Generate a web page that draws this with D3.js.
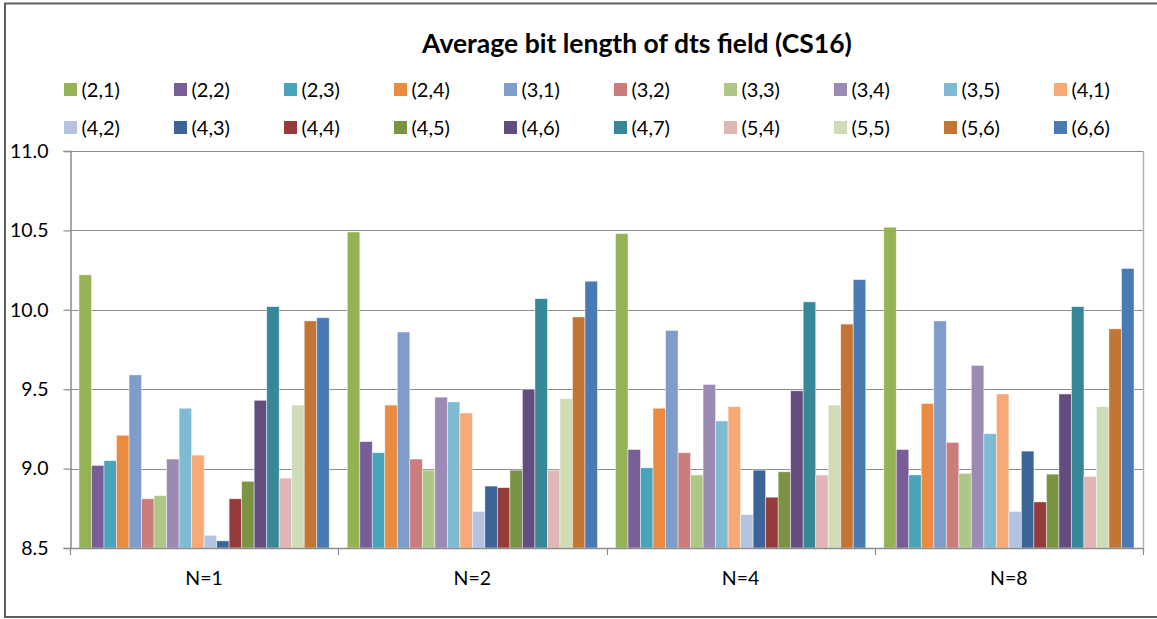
<!DOCTYPE html>
<html>
<head>
<meta charset="utf-8">
<script src="https://cdn.jsdelivr.net/npm/d3@7"></script>
<style>
  html, body { margin: 0; padding: 0; background: #fff; }
  svg { display: block; font-family: Lato, "Open Sans", sans-serif; }
</style>
</head>
<body>
<svg id="chart" width="1157" height="619"></svg>
<script>
// Groups along the x axis
const categories = ["N=1", "N=2", "N=4", "N=8"];

// Series names, in legend order
const seriesNames = ["(2,1)", "(2,2)", "(2,3)", "(2,4)", "(3,1)", "(3,2)", "(3,3)", "(3,4)", "(3,5)", "(4,1)",
                     "(4,2)", "(4,3)", "(4,4)", "(4,5)", "(4,6)", "(4,7)", "(5,4)", "(5,5)", "(5,6)", "(6,6)"];

// Average bit length per series, one array per group (same order as seriesNames)
const valuesN1 = [10.22, 9.02, 9.05, 9.21, 9.59, 8.81, 8.83, 9.06, 9.38, 9.085,
                  8.58, 8.545, 8.81, 8.92, 9.43, 10.02, 8.94, 9.40, 9.93, 9.95];
const valuesN2 = [10.49, 9.17, 9.10, 9.40, 9.86, 9.06, 8.99, 9.45, 9.42, 9.35,
                  8.73, 8.89, 8.88, 8.99, 9.50, 10.07, 8.99, 9.44, 9.955, 10.18];
const valuesN4 = [10.48, 9.12, 9.005, 9.38, 9.87, 9.10, 8.96, 9.53, 9.30, 9.39,
                  8.71, 8.99, 8.82, 8.98, 9.49, 10.05, 8.96, 9.40, 9.91, 10.19];
const valuesN8 = [10.52, 9.12, 8.96, 9.41, 9.93, 9.165, 8.97, 9.65, 9.22, 9.47,
                  8.73, 9.11, 8.79, 8.965, 9.47, 10.02, 8.95, 9.39, 9.88, 10.26];

// Y axis tick labels
const yTicks = [8.5, 9.0, 9.5, 10.0, 10.5, 11.0];

const seriesColors = ["#95b254", "#785d97", "#48a3bb", "#e98c42", "#7f9dca", "#cb7d7b", "#aec686", "#9b8ab4",
                      "#7ebad1", "#f7aa78", "#b4c3df", "#3c6496", "#953b3b", "#7a9443", "#634d7e", "#388799",
                      "#dfb6b5", "#d0dcb8", "#c37534", "#4a7ab3"];

const groups = [valuesN1, valuesN2, valuesN4, valuesN8];
const data = categories.map((c, i) => ({ category: c, values: groups[i] }));

const svg = d3.select("#chart");

// Outer chart frame (its right edge runs off the canvas)
svg.append("rect")
  .attr("x", 5).attr("y", 3.5)
  .attr("width", 1170).attr("height", 613.5)
  .attr("fill", "#fff")
  .attr("stroke", "#5f5f5f")
  .attr("stroke-width", 2);

const plot = { left: 70, right: 1143, top: 151, bottom: 548 };

const x0 = d3.scaleBand()
  .domain(categories)
  .range([plot.left, plot.right])
  .paddingInner(0).paddingOuter(0);

const x1 = d3.scaleBand()
  .domain(seriesNames)
  .range([0, x0.bandwidth()])
  .paddingInner(0).paddingOuter(0.72);

const y = d3.scaleLinear()
  .domain([8.5, 11.0])
  .range([plot.bottom, plot.top]);

// Horizontal gridlines
svg.append("g")
  .selectAll("line")
  .data(yTicks)
  .join("line")
  .attr("x1", plot.left).attr("x2", plot.right)
  .attr("y1", d => Math.round(y(d)) + 0.5).attr("y2", d => Math.round(y(d)) + 0.5)
  .attr("stroke", "#8c8c8c")
  .attr("stroke-width", 1.2);

// Plot area right border
svg.append("line")
  .attr("x1", plot.right + 0.5).attr("x2", plot.right + 0.5)
  .attr("y1", plot.top).attr("y2", plot.bottom)
  .attr("stroke", "#b4b4b4")
  .attr("stroke-width", 1.5);

// Bars
svg.append("g")
  .selectAll("g")
  .data(data)
  .join("g")
  .attr("transform", d => `translate(${x0(d.category)},0)`)
  .selectAll("rect")
  .data(d => d.values.map((v, i) => ({ name: seriesNames[i], value: v, color: seriesColors[i] })))
  .join("rect")
  .attr("x", d => x1(d.name))
  .attr("width", x1.bandwidth())
  .attr("y", d => y(d.value))
  .attr("height", d => y(8.5) - y(d.value))
  .attr("fill", d => d.color)
  .attr("stroke", "rgba(255,255,255,0.55)")
  .attr("stroke-width", 0.8);

// Y axis
const yAxis = svg.append("g")
  .attr("transform", `translate(${plot.left + 0.5},0)`)
  .call(d3.axisLeft(y).tickValues(yTicks).tickFormat(d3.format(".1f")).tickSize(7).tickPadding(15));
yAxis.select(".domain").attr("stroke", "#8c8c8c").attr("stroke-width", 1.5);
yAxis.selectAll(".tick line").attr("stroke", "#8c8c8c").attr("stroke-width", 1.2);
yAxis.selectAll(".tick text")
  .attr("fill", "#000")
  .style("font-size", "19.5px")
  .style("font-family", "Lato, sans-serif");

// X axis: line, boundary ticks and category labels
const xAxis = svg.append("g");
xAxis.append("line")
  .attr("x1", plot.left).attr("x2", plot.right)
  .attr("y1", plot.bottom + 0.5).attr("y2", plot.bottom + 0.5)
  .attr("stroke", "#8c8c8c").attr("stroke-width", 1.5);
const boundaries = categories.map(c => x0(c)).concat([x0.range()[1]]);
xAxis.selectAll("line.tick")
  .data(boundaries)
  .join("line")
  .attr("class", "tick")
  .attr("x1", d => Math.round(d) + 0.5).attr("x2", d => Math.round(d) + 0.5)
  .attr("y1", plot.bottom).attr("y2", plot.bottom + 7)
  .attr("stroke", "#8c8c8c").attr("stroke-width", 1.2);
xAxis.selectAll("text")
  .data(categories)
  .join("text")
  .attr("x", d => x0(d) + x0.bandwidth() / 2)
  .attr("y", 585)
  .attr("text-anchor", "middle")
  .style("font-size", "19.5px")
  .attr("fill", "#000")
  .text(d => d);

// Title
svg.append("text")
  .attr("x", 637)
  .attr("y", 53)
  .attr("text-anchor", "middle")
  .style("font-size", "26.5px")
  .style("font-weight", "bold")
  .attr("fill", "#000")
  .text("Average bit length of dts field (CS16)");

// Legend: two rows of ten
const legend = svg.append("g")
  .selectAll("g")
  .data(seriesNames)
  .join("g")
  .attr("transform", (d, i) => `translate(${64 + (i % 10) * 110},${i < 10 ? 83 : 121})`);
legend.append("rect")
  .attr("width", 13).attr("height", 13)
  .attr("fill", (d, i) => seriesColors[i]);
legend.append("text")
  .attr("x", 17.5)
  .attr("y", 13.5)
  .style("font-size", "20px")
  .attr("fill", "#000")
  .text(d => d);
</script>
</body>
</html>
